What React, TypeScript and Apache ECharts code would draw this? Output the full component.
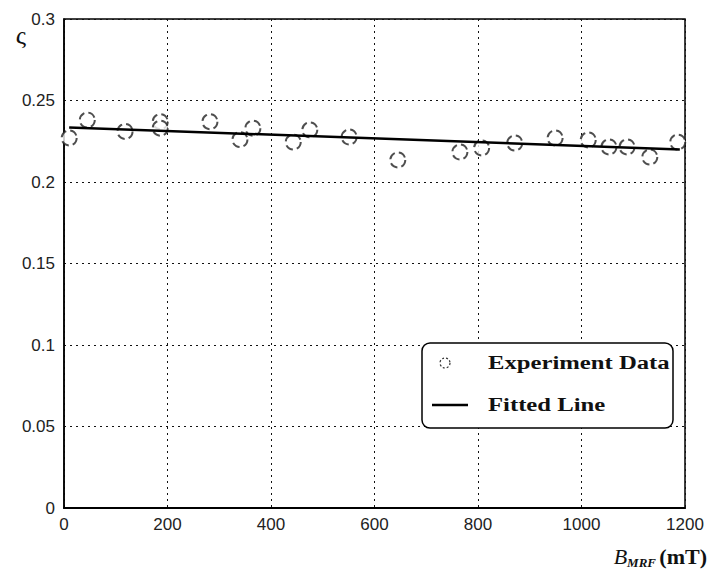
import React, { useEffect, useRef } from "react";
import * as echarts from "echarts";

const expX = [10, 45, 118, 186, 186, 282, 340, 365, 443, 475, 551, 645, 765, 807, 871, 949, 1013, 1053, 1088, 1132, 1186];
const expY = [0.227, 0.238, 0.231, 0.237, 0.233, 0.237, 0.226, 0.233, 0.2245, 0.232, 0.2276, 0.2135, 0.2184, 0.2209, 0.2239, 0.227, 0.2258, 0.2215, 0.2215, 0.2153, 0.2245];
const fitX = [10, 1190];
const fitY = [0.2335, 0.22];
const seriesNames = ["Experiment Data", "Fitted Line"];
const yName = "ς";

export default function App() {
  const ref = useRef<HTMLDivElement>(null);
  useEffect(() => {
    if (!ref.current) return;
    const chart = echarts.init(ref.current, undefined, { renderer: "svg" });
    const gridLine = { show: true, lineStyle: { color: "#111", width: 1, type: [2, 4] as any } };
    const legendFont = {
      fontFamily: "Liberation Serif",
      fontWeight: "bold",
      fontSize: 19,
      fill: "#111",
    };
    chart.setOption({
      animation: false,
      backgroundColor: "#fff",
      grid: {
        left: 64,
        top: 19,
        right: 23,
        bottom: 63,
        show: true,
        borderColor: "#000",
        borderWidth: 1.5,
        outerBoundsMode: "none",
        containLabel: false,
      },
      xAxis: {
        type: "value",
        min: 0,
        max: 1200,
        interval: 200,
        axisLine: { show: true, lineStyle: { color: "#000", width: 2 } },
        axisTick: { show: false },
        splitLine: gridLine,
        axisLabel: { color: "#222", fontSize: 17, fontFamily: "Liberation Sans", margin: 8, formatter: (v: number) => String(v) },
        name: "{b|B}{s|MRF} {u|(mT)}",
        nameLocation: "end",
        nameGap: 22,
        nameTextStyle: {
          align: "right",
          verticalAlign: "top",
          padding: [36, 0, 0, 0],
          rich: {
            b: { fontFamily: "Liberation Serif", fontStyle: "italic", fontSize: 22, color: "#111" },
            s: { fontFamily: "Liberation Serif", fontStyle: "italic", fontWeight: "bold", fontSize: 13, color: "#111", padding: [12, 0, 0, 0] },
            u: { fontFamily: "Liberation Serif", fontWeight: "bold", fontSize: 22, color: "#111" },
          },
        },
      },
      yAxis: {
        type: "value",
        min: 0,
        max: 0.3,
        interval: 0.05,
        axisLine: { show: true, lineStyle: { color: "#000", width: 1.5 } },
        axisTick: { show: false },
        splitLine: gridLine,
        axisLabel: { color: "#222", fontSize: 17, fontFamily: "Liberation Sans", margin: 9 },
      },
      graphic: [
        {
          type: "text",
          x: 21,
          y: 35,
          style: {
            text: yName,
            fontFamily: "Liberation Serif",
            fontSize: 26,
            fill: "#111",
            align: "center",
            verticalAlign: "middle",
          },
          z: 11,
        },
        {
          type: "rect",
          shape: { x: 422, y: 343, width: 251, height: 85, r: 8 },
          style: { fill: "#fff", stroke: "#000", lineWidth: 1.5 },
          z: 10,
        },
        {
          type: "circle",
          shape: { cx: 445, cy: 363, r: 5 },
          style: { fill: "#fff", stroke: "#333", lineWidth: 1.2, lineDash: [2, 2] },
          z: 11,
        },
        {
          type: "line",
          shape: { x1: 432, y1: 405, x2: 468, y2: 405 },
          style: { stroke: "#000", lineWidth: 2.5 },
          z: 11,
        },
        {
          type: "text",
          x: 488,
          y: 363,
          scaleX: 1.3,
          style: { ...legendFont, text: seriesNames[0], verticalAlign: "middle" },
          z: 11,
        },
        {
          type: "text",
          x: 488,
          y: 405,
          scaleX: 1.3,
          style: { ...legendFont, text: seriesNames[1], verticalAlign: "middle" },
          z: 11,
        },
      ],
      series: [
        {
          name: seriesNames[0],
          type: "scatter",
          symbol: "emptyCircle",
          symbolSize: 15,
          itemStyle: { color: "#222", borderColor: "#222", borderWidth: 1.3, borderType: "dashed" },
          data: expX.map((x, i) => [x, expY[i]]),
          z: 3,
        },
        {
          name: seriesNames[1],
          type: "line",
          symbol: "none",
          itemStyle: { color: "#000" },
          lineStyle: { color: "#000", width: 2.5 },
          data: fitX.map((x, i) => [x, fitY[i]]),
          z: 4,
        },
      ],
    });
    return () => chart.dispose();
  }, []);
  return <div ref={ref} style={{ width: 708, height: 571, position: "absolute", left: 0, top: 0 }} />;
}
